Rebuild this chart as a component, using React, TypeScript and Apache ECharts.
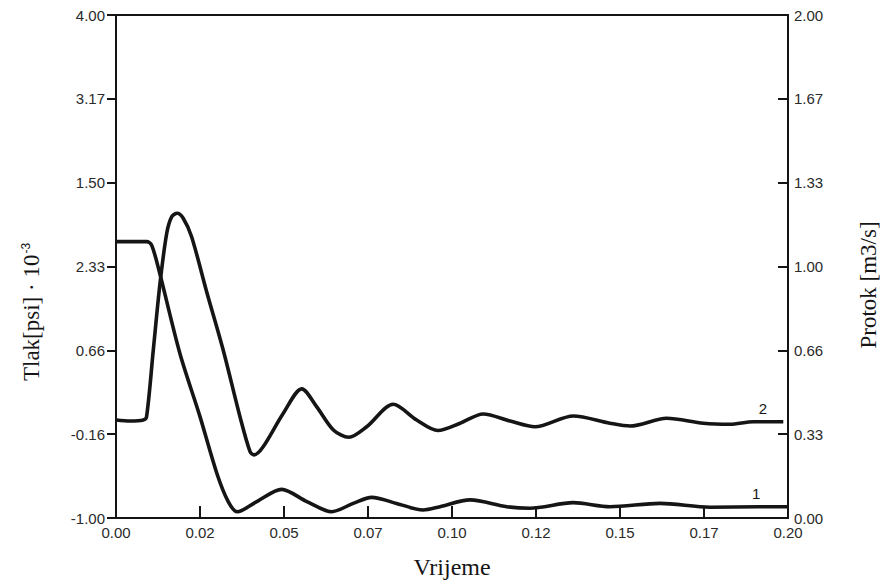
import React, { useEffect, useRef } from "react";
import * as echarts from "echarts";

const X_LABELS = ["0.00", "0.02", "0.05", "0.07", "0.10", "0.12", "0.15", "0.17", "0.20"];
const LEFT_LABELS = ["-1.00", "-0.16", "0.66", "2.33", "1.50", "3.17", "4.00"];
const RIGHT_LABELS = ["0.00", "0.33", "0.66", "1.00", "1.33", "1.67", "2.00"];

// Curve 1 – Protok [m3/s] (right axis)
const TIME_1 = [
  0, 0.0091, 0.0106, 0.0129, 0.0190, 0.0250, 0.0300, 0.0334, 0.0361, 0.0419,
  0.0493, 0.0568, 0.0642, 0.0706, 0.0761, 0.0835, 0.0914, 0.0964, 0.1054, 0.1163,
  0.1232, 0.1361, 0.1470, 0.1619, 0.1768, 0.1916, 0.2,
];
const FLOW_1 = [
  1.099, 1.099, 1.085, 0.979, 0.655, 0.403, 0.178, 0.065, 0.025, 0.065,
  0.114, 0.065, 0.025, 0.058, 0.082, 0.058, 0.032, 0.045, 0.072, 0.045,
  0.039, 0.061, 0.045, 0.058, 0.043, 0.045, 0.045,
];

// Curve 2 – Tlak [psi]·10^-3 (left axis)
const TIME_2 = [
  0, 0.0042, 0.0081, 0.0091, 0.0111, 0.0131, 0.0151, 0.0166, 0.0182, 0.0200,
  0.0225, 0.0270, 0.0319, 0.0369, 0.0399, 0.0411, 0.0438, 0.0498, 0.0553, 0.0597,
  0.0647, 0.0693, 0.0746, 0.0825, 0.0895, 0.0958, 0.1024, 0.1093, 0.1173, 0.1247,
  0.1361, 0.1470, 0.1530, 0.1639, 0.1748, 0.1827, 0.1897, 0.1986,
];
const PRESSURE_2 = [
  -0.026, -0.036, -0.026, 0.007, 0.670, 1.333, 1.830, 1.995, 2.029, 1.979,
  1.796, 1.247, 0.670, 0.007, -0.341, -0.373, -0.292, 0.041, 0.284, 0.107,
  -0.125, -0.198, -0.093, 0.131, -0.026, -0.130, -0.058, 0.034, -0.036, -0.093,
  0.014, -0.058, -0.086, -0.009, -0.058, -0.068, -0.043, -0.043,
];

// inner x ticks (0.025 … 0.175), drawn upward from the bottom edge
const X_TICK_VALUES = X_LABELS.slice(1, -1).map((_, i) => (i + 1) * 0.025);
const X_TICK_HEIGHT = 0.048; // in right-axis units (~12 px)

const LEFT_VALUES = LEFT_LABELS.map((_, i) => -1 + (i * 5) / 6);
const RIGHT_VALUES = RIGHT_LABELS.map((_, i) => (i * 2) / 6);

const INK = "#151515";
const LABEL_COLOR = "#2a2a2a";
const SANS = "'Liberation Sans', Arial, sans-serif";
const SERIF = "'Liberation Serif', 'Times New Roman', serif";

export default function App() {
  const ref = useRef<HTMLDivElement>(null);

  useEffect(() => {
    if (!ref.current) return;
    const chart = echarts.init(ref.current, undefined, { renderer: "svg" });
    const lineStyle = { color: INK, width: 3.6 };
    chart.setOption({
      animation: false,
      backgroundColor: "#fff",
      grid: {
        left: 116,
        right: 103,
        top: 15,
        bottom: 70,
        show: true,
        borderColor: INK,
        borderWidth: 2,
        containLabel: false,
      },
      xAxis: {
        type: "value",
        min: 0,
        max: 0.2,
        interval: 0.025,
        name: "Vrijeme",
        nameLocation: "middle",
        nameGap: 37,
        nameTextStyle: { fontFamily: SERIF, fontSize: 24, color: INK },
        axisLine: { show: true, onZero: false, lineStyle: { color: INK, width: 2 } },
        axisTick: { show: true, inside: true, length: 12, lineStyle: { color: INK, width: 2 } },
        splitLine: { show: false },
        axisLabel: {
          margin: 7,
          fontFamily: SANS,
          fontSize: 15,
          color: LABEL_COLOR,
          formatter: (v: number) => X_LABELS[Math.round(v / 0.025)] ?? "",
        },
      },
      yAxis: [
        {
          type: "value",
          position: "left",
          min: -1,
          max: 4,
          axisLine: { show: true, onZero: false, lineStyle: { color: INK, width: 2 } },
          axisTick: {
            show: true,
            inside: false,
            length: 9,
            customValues: LEFT_VALUES,
            lineStyle: { color: INK, width: 2 },
          },
          splitLine: { show: false },
          axisLabel: {
            margin: 11,
            fontFamily: SANS,
            fontSize: 15,
            color: LABEL_COLOR,
            customValues: LEFT_VALUES,
            formatter: (v: number) => LEFT_LABELS[Math.round(((v + 1) * 6) / 5)] ?? "",
          },
        },
        {
          type: "value",
          position: "right",
          min: 0,
          max: 2,
          axisLine: { show: true, onZero: false, lineStyle: { color: INK, width: 2 } },
          axisTick: {
            show: true,
            inside: true,
            length: 10,
            customValues: RIGHT_VALUES,
            lineStyle: { color: INK, width: 2 },
          },
          splitLine: { show: false },
          axisLabel: {
            margin: 6,
            fontFamily: SANS,
            fontSize: 15,
            color: LABEL_COLOR,
            customValues: RIGHT_VALUES,
            formatter: (v: number) => RIGHT_LABELS[Math.round(v * 3)] ?? "",
          },
        },
      ],
      series: [
        {
          name: "1",
          type: "line",
          yAxisIndex: 1,
          data: TIME_1.map((t, i) => [t, FLOW_1[i]]),
          smooth: 0.3,
          showSymbol: false,
          lineStyle,
          markPoint: {
            symbolSize: 0,
            data: [{ coord: [0.1905, 0.045] }],
            label: {
              show: true,
              formatter: "1",
              offset: [0, -13],
              fontFamily: SANS,
              fontSize: 15,
              color: INK,
            },
          },
          markLine: {
            silent: true,
            symbol: ["none", "none"],
            label: { show: false },
            lineStyle: { color: INK, width: 2, type: "solid" },
            data: X_TICK_VALUES.map((t) => [{ coord: [t, 0] }, { coord: [t, X_TICK_HEIGHT] }]),
          },
        },
        {
          name: "2",
          type: "line",
          yAxisIndex: 0,
          data: TIME_2.map((t, i) => [t, PRESSURE_2[i]]),
          smooth: 0.3,
          showSymbol: false,
          lineStyle,
          markPoint: {
            symbolSize: 0,
            data: [{ coord: [0.1925, -0.043] }],
            label: {
              show: true,
              formatter: "2",
              offset: [0, -13],
              fontFamily: SANS,
              fontSize: 15,
              color: INK,
            },
          },
        },
      ],
      graphic: [
        {
          type: "text",
          x: 31,
          y: 312,
          rotation: Math.PI / 2,
          style: {
            text: "Tlak[psi] · 10{sup|-3}",
            fontFamily: SERIF,
            fontSize: 23,
            fill: INK,
            align: "center",
            verticalAlign: "middle",
            rich: {
              sup: { fontFamily: SANS, fontSize: 12, fill: INK, verticalAlign: "top", padding: [0, 0, 10, 1] },
            },
          },
        },
        {
          type: "text",
          x: 868,
          y: 285,
          rotation: Math.PI / 2,
          style: {
            text: "Protok [m3/s]",
            fontFamily: SERIF,
            fontSize: 23,
            fill: INK,
            align: "center",
            verticalAlign: "middle",
          },
        },
      ],
    });
    return () => chart.dispose();
  }, []);

  return (
    <div
      ref={ref}
      style={{ position: "fixed", left: 0, top: 0, width: 891, height: 588, background: "#fff" }}
    />
  );
}
